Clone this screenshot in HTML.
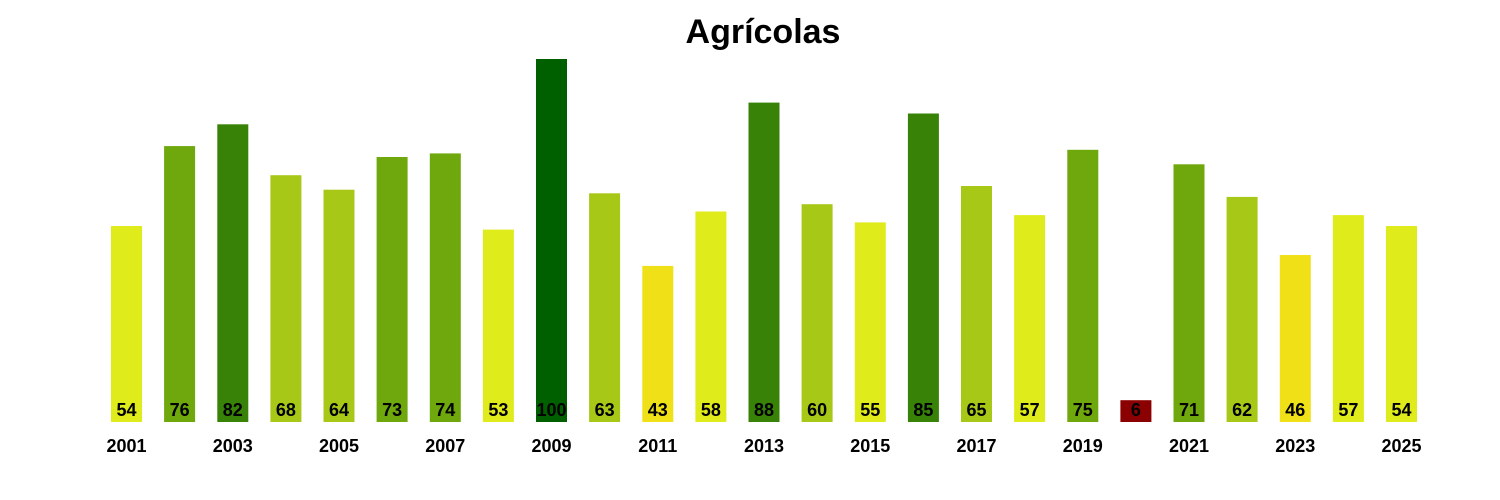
<!DOCTYPE html>
<html><head><meta charset="utf-8"><style>body{margin:0;background:#fff}svg{display:block}</style></head><body>
<svg width="1500" height="500" xmlns="http://www.w3.org/2000/svg" font-family="Liberation Sans, sans-serif" font-weight="bold">
<text x="763" y="43" font-size="34" text-anchor="middle">Agrícolas</text>
<g>
<rect x="111" y="226" width="31" height="196" fill="#e0eb1c"/>
<rect x="164.1" y="146.1" width="31" height="275.9" fill="#6ea80c"/>
<rect x="217.3" y="124.3" width="31" height="297.7" fill="#388208"/>
<rect x="270.4" y="175.2" width="31" height="246.8" fill="#a8c818"/>
<rect x="323.5" y="189.7" width="31" height="232.3" fill="#a8c818"/>
<rect x="376.6" y="157" width="31" height="265" fill="#6ea80c"/>
<rect x="429.8" y="153.4" width="31" height="268.6" fill="#6ea80c"/>
<rect x="482.9" y="229.6" width="31" height="192.4" fill="#e0eb1c"/>
<rect x="536" y="59" width="31" height="363" fill="#006000"/>
<rect x="589.1" y="193.3" width="31" height="228.7" fill="#a8c818"/>
<rect x="642.3" y="265.9" width="31" height="156.1" fill="#f0e018"/>
<rect x="695.4" y="211.5" width="31" height="210.5" fill="#e0eb1c"/>
<rect x="748.5" y="102.6" width="31" height="319.4" fill="#388208"/>
<rect x="801.6" y="204.2" width="31" height="217.8" fill="#a8c818"/>
<rect x="854.8" y="222.4" width="31" height="199.6" fill="#e0eb1c"/>
<rect x="907.9" y="113.5" width="31" height="308.5" fill="#388208"/>
<rect x="961" y="186" width="31" height="236" fill="#a8c818"/>
<rect x="1014.1" y="215.1" width="31" height="206.9" fill="#e0eb1c"/>
<rect x="1067.3" y="149.8" width="31" height="272.2" fill="#6ea80c"/>
<rect x="1120.4" y="400.2" width="31" height="21.8" fill="#8b0000"/>
<rect x="1173.5" y="164.3" width="31" height="257.7" fill="#6ea80c"/>
<rect x="1226.6" y="196.9" width="31" height="225.1" fill="#a8c818"/>
<rect x="1279.8" y="255" width="31" height="167" fill="#f0e018"/>
<rect x="1332.9" y="215.1" width="31" height="206.9" fill="#e0eb1c"/>
<rect x="1386" y="226" width="31" height="196" fill="#e0eb1c"/>
</g>
<g font-size="18" text-anchor="middle">
<text x="126.5" y="416">54</text>
<text x="179.6" y="416">76</text>
<text x="232.8" y="416">82</text>
<text x="285.9" y="416">68</text>
<text x="339" y="416">64</text>
<text x="392.1" y="416">73</text>
<text x="445.3" y="416">74</text>
<text x="498.4" y="416">53</text>
<text x="551.5" y="416">100</text>
<text x="604.6" y="416">63</text>
<text x="657.8" y="416">43</text>
<text x="710.9" y="416">58</text>
<text x="764" y="416">88</text>
<text x="817.1" y="416">60</text>
<text x="870.3" y="416">55</text>
<text x="923.4" y="416">85</text>
<text x="976.5" y="416">65</text>
<text x="1029.6" y="416">57</text>
<text x="1082.8" y="416">75</text>
<text x="1135.9" y="416">6</text>
<text x="1189" y="416">71</text>
<text x="1242.1" y="416">62</text>
<text x="1295.3" y="416">46</text>
<text x="1348.4" y="416">57</text>
<text x="1401.5" y="416">54</text>
</g>
<g font-size="18" text-anchor="middle">
<text x="126.5" y="452">2001</text>
<text x="232.8" y="452">2003</text>
<text x="339" y="452">2005</text>
<text x="445.3" y="452">2007</text>
<text x="551.5" y="452">2009</text>
<text x="657.8" y="452">2011</text>
<text x="764" y="452">2013</text>
<text x="870.3" y="452">2015</text>
<text x="976.5" y="452">2017</text>
<text x="1082.8" y="452">2019</text>
<text x="1189" y="452">2021</text>
<text x="1295.3" y="452">2023</text>
<text x="1401.5" y="452">2025</text>
</g>
</svg>
</body></html>
